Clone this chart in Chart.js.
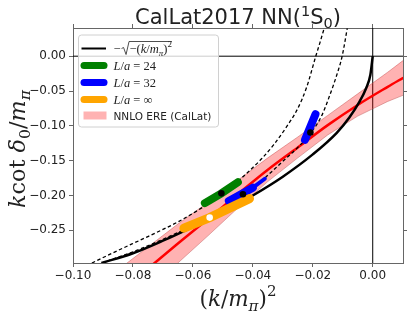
<!DOCTYPE html>
<html>
<head>
<meta charset="utf-8">
<script src="https://cdn.jsdelivr.net/npm/chart.js@4.4.0/dist/chart.umd.min.js"></script>
<style>
  body { margin: 0; background: #fff; }
</style>
</head>
<body>
<canvas id="chart" width="407" height="315"></canvas>
<script>
// tick values
var xTicks = [-0.10, -0.08, -0.06, -0.04, -0.02, 0.00];
var yTicks = [-0.25, -0.20, -0.15, -0.10, -0.05, 0.00];

// -sqrt(-(k/m)^2)
var boundX = [-0.0905, -0.080, -0.070, -0.060, -0.050, -0.040, -0.030, -0.020, -0.012, -0.0078, -0.0045, -0.0022, -0.0008, 0.0];
var boundY = [-0.297, -0.283, -0.265, -0.245, -0.224, -0.200, -0.173, -0.141, -0.110, -0.088, -0.066, -0.046, -0.027, 0.0];

// finite volume curves (dashed)
var l24X = [-0.0937, -0.085, -0.075, -0.065, -0.056, -0.048, -0.042, -0.037, -0.033, -0.029, -0.025, -0.022, -0.019, -0.0175, -0.0162];
var l24Y = [-0.297, -0.279, -0.259, -0.238, -0.215, -0.191, -0.168, -0.147, -0.127, -0.103, -0.075, -0.044, 0.000, 0.021, 0.040];
var l32X = [-0.0905, -0.080, -0.070, -0.060, -0.052, -0.045, -0.040, -0.035, -0.030, -0.025, -0.021, -0.0172, -0.0139, -0.0120, -0.0102, -0.0085];
var l32Y = [-0.297, -0.281, -0.263, -0.243, -0.225, -0.206, -0.191, -0.171, -0.151, -0.131, -0.112, -0.087, -0.051, -0.027, 0.000, 0.040];

// NNLO ERE (CalLat) central value and band
var ereX = [-0.085, -0.075, -0.065, -0.055, -0.045, -0.035, -0.025, -0.015, -0.005, 0.005, 0.0102];
var ereY = [-0.341, -0.305, -0.269, -0.234, -0.198, -0.163, -0.131, -0.099, -0.070, -0.044, -0.031];
var ereHi = [-0.307, -0.274, -0.241, -0.210, -0.178, -0.146, -0.116, -0.085, -0.054, -0.023, -0.006];
var ereLo = [-0.375, -0.336, -0.297, -0.258, -0.218, -0.180, -0.146, -0.113, -0.086, -0.065, -0.056];

// lattice results (thick bands)
var l24BandX = [-0.0560, -0.0505, -0.0450];
var l24BandY = [-0.211, -0.197, -0.181];
var l32BandX = [-0.0226, -0.0191];
var l32BandY = [-0.120, -0.0833];
var l32LowX = [-0.048, -0.040];
var l32LowY = [-0.208, -0.189];
var l32ThinX = [-0.041, -0.036];
var l32ThinY = [-0.192, -0.176];
var infBandX = [-0.0630, -0.0544, -0.0411];
var infBandY = [-0.247, -0.2318, -0.2045];

// central points
var dotX = [-0.0505, -0.0433, -0.0208, -0.0544];
var dotY = [-0.197, -0.1983, -0.1096, -0.2318];
var dotColors = ['#000', '#000', '#000', '#fff'];

function pts(xs, ys) {
    return xs.map(function(x, i) { return {x: x, y: ys[i]}; });
}

function fmt(v) {
    return v.toFixed(2).replace('-', '\u2212');
}

// draws a row of text pieces [text, font, dy]
function richText(ctx, parts, x, y, align) {
    var w = textWidth(ctx, parts);
    var cx = align === 'center' ? x - w / 2 : x;
    parts.forEach(function(p) {
        ctx.font = p[1];
        ctx.fillText(p[0], cx, y + (p[2] || 0));
        cx += ctx.measureText(p[0]).width;
    });
    return w;
}

function textWidth(ctx, parts) {
    var w = 0;
    parts.forEach(function(p) { ctx.font = p[1]; w += ctx.measureText(p[0]).width; });
    return w;
}

var SANS = '"DejaVu Sans"';
var SERIF = '"Liberation Serif"';
var MATH = '"DejaVu Serif"';
var mi = 'italic 12.5px ' + SERIF;
var mr = '12.5px ' + SERIF;
var ms = 'italic 9px ' + SERIF;
var mrs = '9px ' + SERIF;

var legendRows = [
    {color: '#000', width: 2, sqrt: true,
     parts: [['\u2212(', mr], ['k', mi], ['/', mr], ['m', mi], ['\u03c0', ms, 3], [')', mr], ['2', mrs, -6]]},
    {color: 'green', width: 7, parts: [['L', mi], ['/', mr], ['a', mi], [' = 24', mr]]},
    {color: 'blue', width: 7, parts: [['L', mi], ['/', mr], ['a', mi], [' = 32', mr]]},
    {color: 'orange', width: 7, parts: [['L', mi], ['/', mr], ['a', mi], [' = \u221e', mr]]},
    {patch: 'rgba(255, 0, 0, 0.3)', parts: [['NNLO ERE (CalLat)', '10.5px ' + SANS]]}
];

function mathFonts(size) {
    return {
        it: 'italic ' + size + 'px ' + MATH, rm: size + 'px ' + MATH,
        its: 'italic ' + (size * 0.7) + 'px ' + MATH, rms: (size * 0.7) + 'px ' + MATH,
        sub: size * 0.22, sup: -size * 0.45
    };
}

function xLabelParts(size) {
    var f = mathFonts(size);
    return [['(', f.rm], ['k', f.it], ['/', f.rm], ['m', f.it], ['\u03c0', f.its, f.sub], [')', f.rm], ['2', f.rms, f.sup]];
}

function yLabelParts(size) {
    var f = mathFonts(size);
    return [['k', f.it], ['cot ', f.rm], ['\u03b4', f.it], ['0', f.rms, f.sub], ['/', f.rm], ['m', f.it], ['\u03c0', f.its, f.sub]];
}

var overlay = {
    id: 'overlay',
    beforeDatasetsDraw: function(chart) {
        var ctx = chart.ctx, a = chart.chartArea;
        var x0 = chart.scales.x.getPixelForValue(0);
        var y0 = chart.scales.y.getPixelForValue(0);
        ctx.save();
        ctx.strokeStyle = '#000';
        ctx.lineWidth = 1;
        ctx.beginPath();
        ctx.moveTo(a.left, y0); ctx.lineTo(a.right, y0);
        ctx.moveTo(x0, a.top); ctx.lineTo(x0, a.bottom);
        ctx.stroke();
        ctx.restore();
    },
    afterDraw: function(chart) {
        var ctx = chart.ctx, a = chart.chartArea;
        ctx.save();
        ctx.fillStyle = '#222';
        ctx.textBaseline = 'alphabetic';
        // title
        var tf = '21px ' + SANS, tfs = '14.5px ' + SANS;
        richText(ctx, [['CalLat2017 NN(', tf], ['1', tfs, -8], ['S', tf], ['0', tfs, 4], [')', tf]],
                 (a.left + a.right) / 2, 24, 'center');
        // axis labels, sized to the lengths they have in the picture
        var xSize = 20 * 77 / textWidth(ctx, xLabelParts(20));
        richText(ctx, xLabelParts(xSize), (a.left + a.right) / 2, 306, 'center');
        var ySize = 20 * 118 / textWidth(ctx, yLabelParts(20));
        ctx.save();
        ctx.translate(25, 149);
        ctx.rotate(-Math.PI / 2);
        richText(ctx, yLabelParts(ySize), 0, 0, 'center');
        ctx.restore();

        // legend box
        var bx = 78.5, by = 35, bw = 140, bh = 92;
        ctx.beginPath();
        ctx.roundRect(bx, by, bw, bh, 3);
        ctx.fillStyle = 'rgba(255,255,255,0.8)';
        ctx.fill();
        ctx.strokeStyle = '#d0d0d0';
        ctx.lineWidth = 1;
        ctx.stroke();
        var rowY = [48.5, 65.5, 82.5, 99.5, 115.5];
        legendRows.forEach(function(r, i) {
            var y = rowY[i];
            if (r.patch) {
                ctx.fillStyle = r.patch;
                ctx.fillRect(83.5, y - 4, 23, 8);
            } else {
                ctx.strokeStyle = r.color;
                ctx.lineWidth = r.width;
                ctx.lineCap = r.width > 3 ? 'round' : 'butt';
                ctx.beginPath();
                ctx.moveTo(r.width > 3 ? 84 : 81.5, y);
                ctx.lineTo(r.width > 3 ? 104 : 106, y);
                ctx.stroke();
                ctx.lineCap = 'butt';
            }
            ctx.fillStyle = '#222';
            var tx = 113.5, ty = y + 4;
            if (r.sqrt) {
                ctx.font = mr;
                ctx.fillText('\u2212', tx, ty);
                var sx = tx + ctx.measureText('\u2212').width + 1;
                var rw = richText(ctx, r.parts, sx + 8, ty, 'left');
                ctx.strokeStyle = '#222';
                ctx.lineWidth = 0.8;
                ctx.beginPath();
                ctx.moveTo(sx, ty - 4);
                ctx.lineTo(sx + 2, ty - 5);
                ctx.lineTo(sx + 4.5, ty + 2);
                ctx.lineTo(sx + 7.5, ty - 11);
                ctx.lineTo(sx + 8 + rw, ty - 11);
                ctx.stroke();
            } else {
                richText(ctx, r.parts, tx, ty, 'left');
            }
        });
        ctx.restore();
    }
};

function bandLine(xs, ys, color, width, order) {
    return {data: pts(xs, ys), borderColor: color, borderWidth: width,
            borderCapStyle: 'round', pointRadius: 0, order: order};
}

function curve(xs, ys, color, width, dash, order) {
    return {data: pts(xs, ys), borderColor: color, borderWidth: width, borderDash: dash,
            cubicInterpolationMode: 'monotone', pointRadius: 0, order: order};
}

var tickFont = {family: 'DejaVu Sans', size: 12};
var spine = '#666';

function mainAxis(min, max, ticks, isX) {
    return {
        type: 'linear', min: min, max: max,
        position: isX ? 'bottom' : 'left',
        afterBuildTicks: function(s) { s.ticks = ticks.map(function(v) { return {value: v}; }); },
        afterFit: function(s) { if (isX) s.height = 52; else s.width = 73; },
        ticks: {callback: fmt, font: tickFont, color: '#222', padding: isX ? 2 : 3,
                maxRotation: 0, autoSkip: false},
        grid: {drawOnChartArea: false, drawTicks: true, tickLength: 4, color: spine},
        border: {display: true, color: spine, width: 1}
    };
}

function mirrorAxis(min, max, ticks, isX) {
    return {
        type: 'linear', min: min, max: max,
        position: isX ? 'top' : 'right',
        afterBuildTicks: function(s) { s.ticks = ticks.map(function(v) { return {value: v}; }); },
        afterFit: function(s) { if (isX) s.height = 0; else s.width = 0; },
        ticks: {display: false},
        grid: {drawOnChartArea: false, drawTicks: true, tickLength: 4, color: spine},
        border: {display: true, color: spine, width: 1}
    };
}

var ctx = document.getElementById('chart').getContext('2d');
var chart = new Chart(ctx, {
    type: 'line',
    data: {
        datasets: [
            {data: pts(ereX, ereHi), borderColor: 'rgba(190, 90, 90, 0.6)', borderWidth: 0.8,
             pointRadius: 0, order: 9},
            {data: pts(ereX, ereLo), borderColor: 'rgba(190, 90, 90, 0.6)', borderWidth: 0.8,
             pointRadius: 0, fill: '-1', backgroundColor: 'rgba(255, 0, 0, 0.3)', order: 8},
            curve(ereX, ereY, '#ff0000', 2.5, [], 7),
            curve(l24X, l24Y, '#000', 1.3, [3.5, 2.5], 6),
            curve(l32X, l32Y, '#000', 1.3, [3.5, 2.5], 6),
            curve(boundX, boundY, '#000', 2.5, [], 5),
            bandLine(l24BandX, l24BandY, 'green', 8, 4),
            bandLine(l32BandX, l32BandY, 'blue', 8, 3),
            bandLine(l32LowX, l32LowY, 'blue', 8, 3),
            bandLine(l32ThinX, l32ThinY, 'blue', 4, 3),
            bandLine(infBandX, infBandY, 'orange', 9, 2),
            {data: pts(dotX, dotY), showLine: false, pointRadius: 3.3, pointBorderWidth: 0,
             pointBackgroundColor: dotColors, pointBorderColor: dotColors, order: 0}
        ]
    },
    options: {
        responsive: false,
        animation: false,
        layout: {padding: {top: 28, right: 3, left: 0, bottom: 0}},
        plugins: {legend: {display: false}, tooltip: {enabled: false}, title: {display: false}},
        events: [],
        scales: {
            x: mainAxis(-0.10, 0.0101, xTicks, true),
            y: mainAxis(-0.297, 0.0405, yTicks, false),
            x2: mirrorAxis(-0.10, 0.0101, xTicks, true),
            y2: mirrorAxis(-0.297, 0.0405, yTicks, false)
        }
    },
    plugins: [overlay]
});
</script>
</body>
</html>
